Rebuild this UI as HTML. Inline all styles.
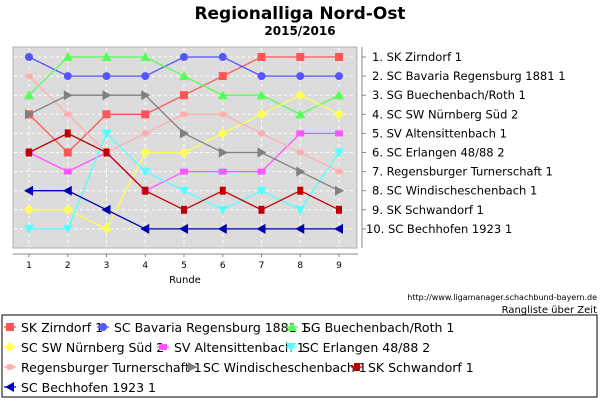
<!DOCTYPE html>
<html><head><meta charset="utf-8"><style>
body{margin:0;background:#fff}
text{font-family:"DejaVu Sans","Liberation Sans",sans-serif}
</style></head><body>
<svg id="c" width="600" height="400" xmlns="http://www.w3.org/2000/svg">
<text x="300" y="19" text-anchor="middle" font-size="17" font-weight="bold">Regionalliga Nord-Ost</text>
<text x="300" y="35" text-anchor="middle" font-size="12" font-weight="bold" font-family="Liberation Serif">2015/2016</text>
<rect x="13" y="47" width="344" height="201" fill="#dcdcdc" stroke="#b0b0b0"/>
<g id="grid"></g>
<line x1="13" y1="254" x2="358" y2="254" stroke="#888"/>
<line x1="362" y1="47" x2="362" y2="248" stroke="#888"/>
<g id="xt"></g><g id="yt"></g>
<text x="185" y="283" text-anchor="middle" font-size="10">Runde</text>
<g id="series"></g>
<text x="597" y="300" text-anchor="end" font-size="8">http://www.ligamanager.schachbund-bayern.de</text>
<text x="597" y="313" text-anchor="end" font-size="10" font-family="Liberation Mono">Rangliste über Zeit</text>
<rect x="2" y="315" width="595" height="82" fill="#fff" stroke="#000"/>
<g id="legend"></g>
</svg>
<script>
const rounds=[1,2,3,4,5,6,7,8,9];
const teams=["SK Zirndorf 1","SC Bavaria Regensburg 1881 1","SG Buechenbach/Roth 1","SC SW Nürnberg Süd 2","SV Altensittenbach 1","SC Erlangen 48/88 2","Regensburger Turnerschaft 1","SC Windischeschenbach 1","SK Schwandorf 1","SC Bechhofen 1923 1"];
const zirndorf=[4,6,4,4,3,2,1,1,1];
const bavaria=[1,2,2,2,1,1,2,2,2];
const buechenbach=[3,1,1,1,2,3,3,4,3];
const nuernberg=[9,9,10,6,6,5,4,3,4];
const altensittenbach=[6,7,6,8,7,7,7,5,5];
const erlangen=[10,10,5,7,8,9,8,9,6];
const turnerschaft=[2,4,6,5,4,4,5,6,7];
const windisch=[4,3,3,3,5,6,6,7,8];
const schwandorf=[6,5,6,8,9,8,9,8,9];
const bechhofen=[8,8,9,10,10,10,10,10,10];
const finalLabels=["1. SK Zirndorf 1","2. SC Bavaria Regensburg 1881 1","3. SG Buechenbach/Roth 1","4. SC SW Nürnberg Süd 2","5. SV Altensittenbach 1","6. SC Erlangen 48/88 2","7. Regensburger Turnerschaft 1","8. SC Windischeschenbach 1","9. SK Schwandorf 1","10. SC Bechhofen 1923 1"];
const seriesData=[zirndorf,bavaria,buechenbach,nuernberg,altensittenbach,erlangen,turnerschaft,windisch,schwandorf,bechhofen];
const colors=["#ff5555","#5555ff","#55ff55","#ffff55","#ff55ff","#55ffff","#ffafaf","#808080","#c00000","#0000b0"];
const shapes=["sq","ci","tu","di","rs","td","sc","tr","tall","tl"];
const NS="http://www.w3.org/2000/svg";
const X=r=>29+(r-1)*38.75;
const Y=k=>57+(k-1)*19.1;
function mk(t,a,p){const e=document.createElementNS(NS,t);for(const k in a)e.setAttribute(k,a[k]);p.appendChild(e);return e;}
const grid=document.getElementById('grid'),xt=document.getElementById('xt'),yt=document.getElementById('yt');
rounds.forEach(r=>{
 const l=mk('line',{x1:X(r),y1:48,x2:X(r),y2:247,stroke:'#fff','stroke-dasharray':'3,3'},grid);
 
 
 const tk=mk('line',{x1:X(r),y1:254,x2:X(r),y2:257,stroke:'#888'},xt);
 
 
 const t=mk('text',{x:X(r),y:268,'text-anchor':'middle','font-size':'9'},xt);t.textContent=r;
 
 
});
finalLabels.forEach((s,i)=>{
 const k=i+1;
 const l=mk('line',{x1:14,y1:Y(k),x2:356,y2:Y(k),stroke:'#fff','stroke-dasharray':'3,3'},grid);
 
 
 const tk=mk('line',{x1:362,y1:Y(k),x2:366,y2:Y(k),stroke:'#888'},yt);
 
 
 const t=mk('text',{x:k<10?372:366,y:Y(k)+4,'font-size':'11.5','font-family':'Liberation Mono'},yt);t.textContent=s;
 
 
});
function marker(sh,x,y,c,p){
 let e;
 if(sh=='sq')e=mk('rect',{x:x-4,y:y-4,width:8,height:8,fill:c},p);
 else if(sh=='ci')e=mk('circle',{cx:x,cy:y,r:4,fill:c},p);
 else if(sh=='sc')e=mk('ellipse',{cx:x,cy:y,rx:4,ry:3,fill:c},p);
 else if(sh=='rs')e=mk('rect',{x:x-4,y:y-3,width:8,height:6,fill:c},p);
 else if(sh=='tall')e=mk('rect',{x:x-3,y:y-4,width:6,height:8,fill:c},p);
 else{let pts;
  if(sh=='tu')pts=[[0,-5],[5,4],[-5,4]];
  else if(sh=='td')pts=[[0,5],[5,-4],[-5,-4]];
  else if(sh=='tr')pts=[[5,0],[-4,-5],[-4,5]];
  else if(sh=='tl')pts=[[-5,0],[4,-5],[4,5]];
  else pts=[[0,-5],[5,0],[0,5],[-5,0]];
  e=mk('polygon',{points:pts.map(q=>(x+q[0])+','+(y+q[1])).join(' '),fill:c},p);}
 return e;
}
const sg=document.getElementById('series');
seriesData.forEach((d,i)=>{
 const g=mk('g',{},sg);
 
 
 const pl=mk('polyline',{points:d.map((v,j)=>X(rounds[j])+','+Y(v)).join(' '),fill:'none',stroke:colors[i],'stroke-width':1.3},g);
 
 
 d.forEach((v,j)=>{const m=marker(shapes[i],X(rounds[j]),Y(v),colors[i],g);
  
  });
});
const lg=document.getElementById('legend');
const lx=[[4,97,286],[4,157,285],[4,186,351],[4]];
const ly=[327,347,367,387];
let idx=0;
lx.forEach((row,ri)=>row.forEach(x0=>{
 const i=idx++;
 const g=mk('g',{},lg);
 
 
 mk('line',{x1:x0,y1:ly[ri],x2:x0+12,y2:ly[ri],stroke:colors[i],'stroke-width':1.3},g);
 marker(shapes[i],x0+6,ly[ri],colors[i],g);
 const t=mk('text',{x:x0+17,y:ly[ri]+5,'font-size':'12.5','font-family':'Liberation Sans'},g);t.textContent=teams[i];
}));
</script>
</body></html>
